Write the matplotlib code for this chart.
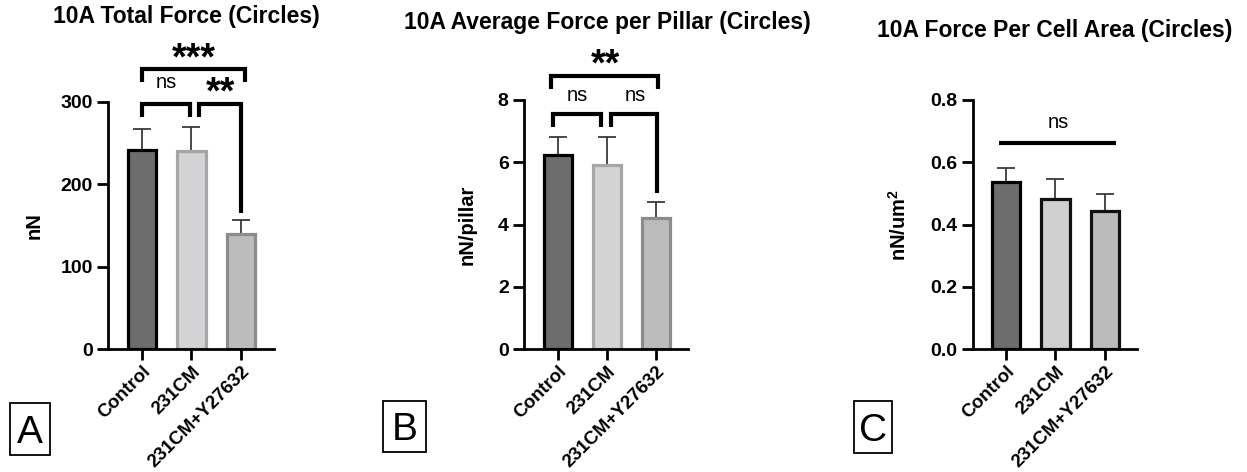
import matplotlib
matplotlib.use('Agg')
import matplotlib.pyplot as plt
from matplotlib.patches import Rectangle

plt.rcParams['font.family'] = 'Liberation Sans'
plt.rcParams['font.weight'] = 'bold'
plt.rcParams['axes.labelweight'] = 'bold'
plt.rcParams['mathtext.fontset'] = 'custom'
plt.rcParams['mathtext.rm'] = 'Liberation Sans:bold'
plt.rcParams['mathtext.bf'] = 'Liberation Sans:bold'

W, H = 1247, 472

groups = ['Control', '231CM', '231CM+Y27632']

# mean and SEM for each group
total_force = [242, 241, 140]
total_force_sem = [25, 29, 17]

pillar_force = [6.23, 5.90, 4.20]
pillar_force_sem = [0.57, 0.92, 0.52]

area_force = [0.537, 0.481, 0.444]
area_force_sem = [0.046, 0.066, 0.055]

# pairwise comparisons (group a, group b, label)
total_force_stats = [(0, 1, 'ns'), (1, 2, '**'), (0, 2, '***')]
pillar_force_stats = [(0, 1, 'ns'), (1, 2, 'ns'), (0, 2, '**')]
area_force_stats = [(0, 2, 'ns')]


def px_rect(left, top, right, bottom):
    """Axes rectangle from pixel edges (origin top-left)."""
    return [left / W, 1 - bottom / H, (right - left) / W, (bottom - top) / H]


def draw_bars(ax, values, sem, fills, edges, ymax, yticks, ylabel, xlim):
    x = range(len(values))
    ax.errorbar(x, values, yerr=[[0] * len(sem), sem], fmt='none',
                ecolor='#3a3a3a', elinewidth=1.3, capsize=6.5, capthick=1.3,
                zorder=1)
    ax.bar(x, values, width=0.57, color=fills, edgecolor=edges,
           linewidth=2.3, zorder=2)
    ax.set_xlim(*xlim)
    ax.set_ylim(0, ymax)
    ax.set_yticks(yticks)
    ax.set_xticks(list(x))
    ax.set_xticklabels(groups, rotation=45, ha='right',
                       rotation_mode='anchor', fontsize=13.5)
    ax.tick_params(axis='y', width=2, length=8, labelsize=14, pad=3)
    ax.tick_params(axis='x', width=2, length=8, pad=2)
    ax.set_ylabel(ylabel, fontsize=14.5)
    for side in ['top', 'right']:
        ax.spines[side].set_visible(False)
    for side in ['left', 'bottom']:
        ax.spines[side].set_linewidth(2)


def bracket(ax, x0, x1, y, y_left, y_right):
    ax.plot([x0, x0, x1, x1], [y_left, y, y, y_right], color='black',
            lw=3, clip_on=False, solid_joinstyle='miter',
            solid_capstyle='butt', zorder=3)


def stat_text(ax, x, y, label):
    if label == 'ns':
        ax.text(x, y, label, ha='center', va='baseline', fontsize=14.5,
                fontweight='normal', clip_on=False)
    else:
        ax.text(x, y, label, ha='center', va='baseline', fontsize=27,
                fontweight='bold', clip_on=False)


fig = plt.figure(figsize=(W / 100, H / 100), dpi=100)

# A: total force
ax_a = fig.add_axes(px_rect(108, 102, 274, 349))
draw_bars(ax_a, total_force, total_force_sem,
          ['#6d6d6d', '#d3d3d5', '#bcbcbc'], ['black', '#a6a6a6', '#8c8c8c'],
          300, [0, 100, 200, 300], 'nN', (-0.69, 2.67))
ax_a.yaxis.set_label_coords(-0.39, 0.5)
bracket(ax_a, 0, 0.97, 298, 282, 282)
bracket(ax_a, 1.15, 2.0, 298, 282, 165)
bracket(ax_a, 0, 2.08, 340, 324, 324)
stat_text(ax_a, 0.49, 317, total_force_stats[0][2])
stat_text(ax_a, 1.58, 298, total_force_stats[1][2])
stat_text(ax_a, 1.04, 340, total_force_stats[2][2])

# B: average force per pillar
ax_b = fig.add_axes(px_rect(524, 100, 688, 349))
draw_bars(ax_b, pillar_force, pillar_force_sem,
          ['#6d6d6d', '#d3d3d5', '#bcbcbc'], ['black', '#a6a6a6', '#8c8c8c'],
          8, [0, 2, 4, 6, 8], 'nN/pillar', (-0.69, 2.65))
ax_b.yaxis.set_label_coords(-0.287, 0.5)
bracket(ax_b, -0.09, 0.88, 7.56, 7.14, 7.14)
bracket(ax_b, 1.09, 2.01, 7.56, 7.14, 5.02)
bracket(ax_b, -0.14, 2.04, 8.78, 8.36, 8.36)
stat_text(ax_b, 0.39, 7.96, pillar_force_stats[0][2])
stat_text(ax_b, 1.57, 7.96, pillar_force_stats[1][2])
stat_text(ax_b, 0.96, 8.78, pillar_force_stats[2][2])

# C: force per cell area
ax_c = fig.add_axes(px_rect(973, 100, 1137, 349))
draw_bars(ax_c, area_force, area_force_sem,
          ['#6d6d6d', '#d0d0d0', '#bbbbbb'], ['black', '#111111', '#111111'],
          0.8, [0.0, 0.2, 0.4, 0.6, 0.8], r'nN/um$^{2}$', (-0.67, 2.65))
ax_c.set_yticklabels(['0.0', '0.2', '0.4', '0.6', '0.8'])
ax_c.yaxis.set_label_coords(-0.384, 0.5)
ax_c.plot([-0.14, 2.22], [0.662, 0.662], color='black', lw=3,
          solid_capstyle='butt', clip_on=False)
stat_text(ax_c, 1.05, 0.71, area_force_stats[0][2])

# panel titles
fig.text(186 / W, 1 - 17 / H, '10A Total Force (Circles)', ha='center',
         va='center', fontsize=16.5, fontweight='bold')
fig.text(607 / W, 1 - 22 / H, '10A Average Force per Pillar (Circles)',
         ha='center', va='center', fontsize=16.5, fontweight='bold')
fig.text(1055 / W, 1 - 30 / H, '10A Force Per Cell Area (Circles)',
         ha='center', va='center', fontsize=16.5, fontweight='bold')

# panel letters in boxes
for letter, (l, t, r, b) in zip('ABC', [(10, 403, 50, 455),
                                        (383, 401, 426, 452),
                                        (854, 401, 892, 453)]):
    fig.patches.append(Rectangle((l / W, 1 - b / H), (r - l) / W, (b - t) / H,
                                 transform=fig.transFigure, fill=False,
                                 edgecolor='black', lw=1.3))
    fig.text((l + r) / 2 / W, 1 - (t + b) / 2 / H, letter, ha='center',
             va='center_baseline', fontsize=28, fontweight='normal')

fig.savefig('out.png', dpi=100)
